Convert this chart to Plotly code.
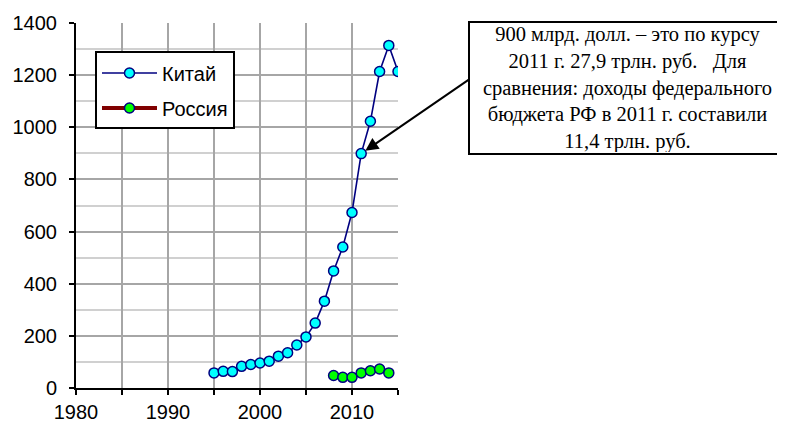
import plotly.graph_objects as go

china_years = list(range(1995, 2016))
china_values = [58, 64, 63, 83, 90, 96, 103, 122, 135, 165, 196, 249, 333, 449, 541, 673,
                899, 1023, 1214, 1314, 1214]
russia_years = list(range(2008, 2015))
russia_values = [48, 41, 41, 58, 66, 73, 58]

x_tickvals = [1980, 1985, 1990, 1995, 2000, 2005, 2010, 2015]
x_ticktext = ["1980", "", "1990", "", "2000", "", "2010", ""]
y_tickvals = [0, 200, 400, 600, 800, 1000, 1200, 1400]

note_text = ("900 млрд. долл. – это по курсу<br>2011 г. 27,9 трлн. руб.\u00a0\u00a0\u00a0Для<br>"
             "сравнения: доходы федерального<br>бюджета РФ в 2011 г. составили<br>11,4 трлн. руб.")

fig = go.Figure()
fig.add_trace(go.Scatter(
    x=china_years, y=china_values, name="Китай", mode="lines+markers",
    line=dict(color="#000080", width=1.6),
    marker=dict(size=10, color="#00FFFF", line=dict(color="#000080", width=1.5)),
    legendgroup="a",
))
fig.add_trace(go.Scatter(
    x=russia_years, y=russia_values, name="Россия", mode="lines+markers",
    line=dict(color="#800000", width=4),
    marker=dict(size=10, color="#00FF00", line=dict(color="#000080", width=1.5)),
    legendgroup="b",
))

fig.update_xaxes(
    range=[1980, 2015], tickvals=x_tickvals, ticktext=x_ticktext,
    showgrid=True, gridcolor="#A6A6A6", gridwidth=1.5,
    showline=True, linecolor="black", linewidth=2,
    ticks="outside", ticklen=5, tickwidth=2, tickcolor="black",
    tickfont=dict(family="Liberation Sans, Arial", size=20, color="black"),
    zeroline=False, automargin=False,
)
fig.update_yaxes(
    range=[0, 1400], tickvals=y_tickvals,
    showgrid=True, gridcolor="#A6A6A6", gridwidth=1.5,
    minor=dict(dtick=100, showgrid=True, gridcolor="#D0D0D0", gridwidth=1.5),
    showline=True, linecolor="black", linewidth=2,
    ticks="outside", ticklen=5, tickwidth=2, tickcolor="black",
    tickfont=dict(family="Liberation Sans, Arial", size=20, color="black"),
    zeroline=False, automargin=False, ticklabelstandoff=8,
)

fig.add_annotation(
    xref="x", yref="y", x=china_years[16], y=china_values[16],
    text="", showarrow=True, axref="pixel", ayref="pixel", ax=112, ay=-77,
    arrowhead=2, arrowsize=1.3, arrowwidth=2, arrowcolor="black", standoff=5,
)
fig.add_annotation(
    xref="paper", yref="paper", x=1.7127, y=0.823, xanchor="center", yanchor="middle",
    text=note_text, showarrow=False, align="center",
    font=dict(family="Liberation Serif, Times New Roman", size=20.5, color="black"),
    bordercolor="black", borderwidth=2, borderpad=1, bgcolor="white",
    width=313, height=128,
)

fig.update_layout(
    width=785, height=430,
    margin=dict(l=68, r=395, t=15, b=50, autoexpand=False),
    paper_bgcolor="white", plot_bgcolor="white",
    showlegend=True,
    legend=dict(
        x=0.059, y=0.922, xanchor="left", yanchor="top",
        bordercolor="black", borderwidth=2, bgcolor="white",
        font=dict(family="Liberation Sans, Arial", size=20, color="black"),
        tracegroupgap=6, itemwidth=55,
    ),
)

fig.write_html("out.html")
